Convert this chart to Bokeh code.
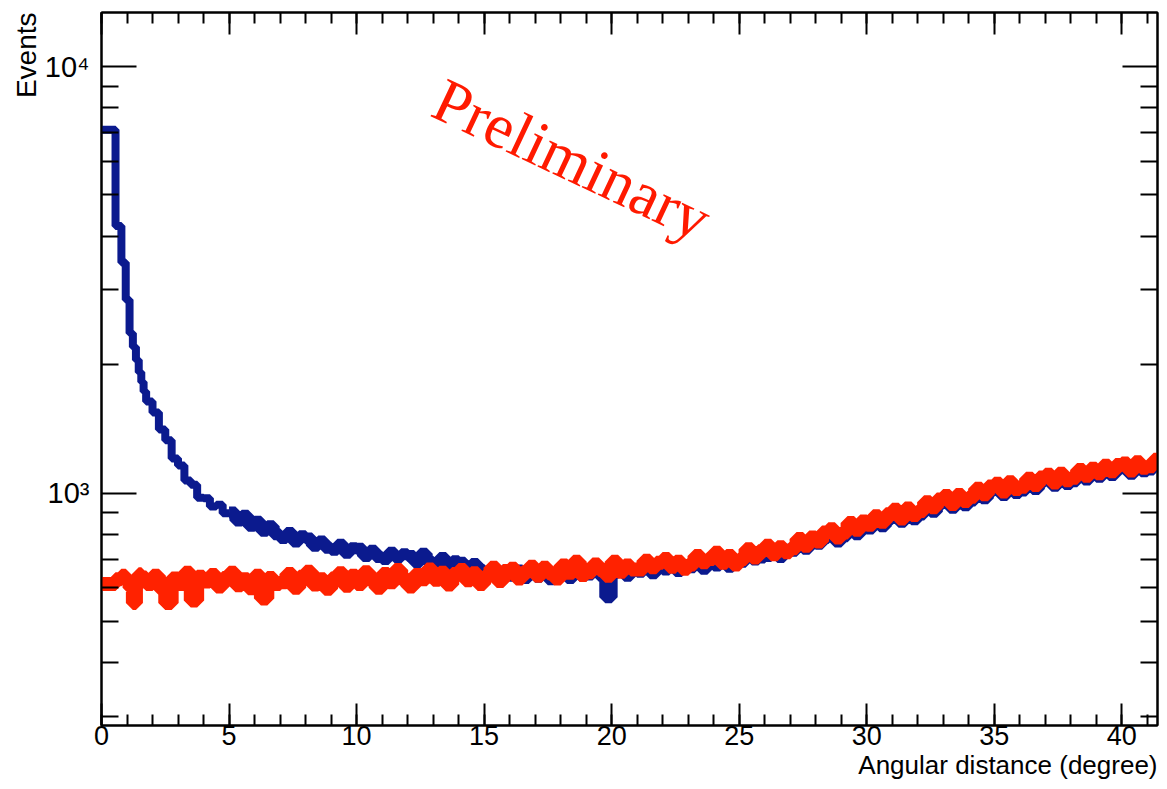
import numpy as np
from bokeh.plotting import figure
from bokeh.models import (FixedTicker, LinearAxis, LogAxis, Label, Range1d,
                          CustomJSTickFormatter, Title)
from bokeh.embed import file_html
from bokeh.resources import INLINE

# ---------------- data ----------------
# bin edges (deg): narrow equal-solid-angle bins near 0, then 0.25 deg bins
edges_fine = [0, 0.55, 0.78, 0.95, 1.10, 1.23, 1.35, 1.46, 1.56, 1.65, 1.75]
edges_coarse_start = 2.0
edges_coarse_step = 0.25
edges_coarse_stop = 42.0

# ON-source (blue) counts per bin
blue_counts = [
    7110, 4230, 3470, 2840, 2370, 2200, 2050, 1920, 1820, 1730,
    1640,
    1545, 1410, 1330, 1205,
    1160, 1070, 1045, 975,
    972, 930, 938, 896,
    900, 862, 884, 838,
    856, 816, 836, 800,
    784, 806, 770, 792,
    782, 752, 770, 744,
    736, 756, 724, 742,
    740, 712, 732, 708,
    700, 724, 706, 718,
    712, 688, 720, 690,
    680, 704, 676, 692,
    686, 664, 682, 660,
    652, 668, 644, 660,
    640, 658, 632, 650,
    636, 652, 628, 646,
    650, 632, 660, 640,
    644, 662, 640, 570,
    650, 668, 640, 660,
    654, 676, 648, 666,
    662, 684, 656, 676,
    670, 692, 664, 688,
    676, 700, 672, 694,
    690, 714, 698, 706,
    712, 730, 708, 736,
    732, 756, 740, 762,
    760, 784, 796, 770,
    792, 826, 800, 834,
    826, 860, 836, 868,
    890, 856, 896, 868,
    890, 930, 904, 944,
    960, 924, 966, 936,
    960, 1000, 972, 1012,
    1028, 990, 1036, 1000,
    1014, 1058, 1022, 1064,
    1080, 1040, 1086, 1050,
    1066, 1110, 1076, 1116,
    1092, 1136, 1102, 1140,
    1150, 1110, 1156, 1124,
    1136, 1176, 1146, 1180,
]

# OFF-source / background (red) counts per bin
red_counts = [
    612, 628, 640, 622, 600, 552, 628, 645, 620, 634,
    612,
    640, 598, 552, 630,
    612, 650, 560, 636,
    620, 642, 604, 632,
    650, 608, 628, 598,
    640, 566, 632, 612,
    618, 646, 600, 636,
    654, 610, 628, 596,
    630, 648, 606, 640,
    612, 652, 624, 600,
    646, 618, 660, 626,
    604, 642, 628, 662,
    626, 650, 610, 646,
    660, 624, 648, 612,
    638, 668, 622, 656,
    664, 630, 652, 672,
    640, 668, 648, 630,
    676, 650, 690, 642,
    652, 680, 660, 640,
    690, 654, 676, 662,
    662, 694, 670, 686,
    700, 672, 690, 664,
    680, 712, 688, 700,
    724, 686, 712, 680,
    700, 738, 706, 730,
    752, 718, 746, 726,
    742, 780, 752, 786,
    770, 808, 822, 786,
    808, 850, 820, 858,
    842, 882, 856, 892,
    914, 872, 920, 888,
    908, 952, 926, 966,
    984, 942, 990, 958,
    980, 1024, 994, 1036,
    1052, 1008, 1060, 1022,
    1034, 1080, 1044, 1088,
    1104, 1058, 1110, 1072,
    1086, 1132, 1098, 1140,
    1112, 1158, 1124, 1164,
    1172, 1130, 1180, 1146,
    1156, 1196, 1166, 1200,
]

x_major = [0, 5, 10, 15, 20, 25, 30, 35, 40]
x_minor = list(range(0, 42))
y_major = [1000, 10000]
y_minor = [300, 400, 500, 600, 700, 800, 900,
           2000, 3000, 4000, 5000, 6000, 7000, 8000, 9000]

x_title = "Angular distance (degree)"
y_title = "Events"
watermark = "Preliminary"

# ---------------- build ----------------
edges = np.array(edges_fine + list(np.arange(edges_coarse_start,
                                            edges_coarse_stop + 1e-9,
                                            edges_coarse_step)))
assert len(edges) - 1 == len(blue_counts) == len(red_counts)
step_y_blue = np.append(blue_counts, blue_counts[-1])
step_y_red = np.append(red_counts, red_counts[-1])
n_steep = 23  # bins of the steep blue part drawn thinner

BLUE = "#0b1a8e"
RED = "#ff2200"
FONT = "Liberation Sans"

p = figure(width=1159, height=789,
           x_range=Range1d(0, 41.4), y_range=Range1d(285, 13390),
           y_axis_type="log", output_backend="svg", toolbar_location=None,
           min_border_left=101, min_border_right=2, min_border_top=12,
           min_border_bottom=64, background_fill_color="white",
           border_fill_color="white")
p.grid.visible = False
p.outline_line_color = "black"
p.outline_line_width = 2

p.step(x=edges[:n_steep + 1], y=step_y_blue[:n_steep + 1], mode="after",
       line_color=BLUE, line_width=8)
p.step(x=edges[n_steep:], y=step_y_blue[n_steep:], mode="after",
       line_color=BLUE, line_width=12)
p.step(x=edges, y=step_y_red, mode="after",
       line_color=RED, line_width=14)

xt = FixedTicker(ticks=x_major, minor_ticks=x_minor)
yt = FixedTicker(ticks=y_major, minor_ticks=y_minor)

def style_x(ax):
    ax.ticker = xt
    ax.major_tick_in = 22
    ax.major_tick_out = 0
    ax.minor_tick_in = 11
    ax.minor_tick_out = 0
    ax.axis_line_width = 2
    ax.major_tick_line_width = 2
    ax.minor_tick_line_width = 2
    ax.major_label_text_font = FONT
    ax.major_label_text_font_size = "27px"
    ax.major_label_text_color = "black"

def style_y(ax):
    ax.ticker = yt
    ax.major_tick_in = 35
    ax.major_tick_out = 0
    ax.minor_tick_in = 17
    ax.minor_tick_out = 0
    ax.axis_line_width = 2
    ax.major_tick_line_width = 2
    ax.minor_tick_line_width = 2
    ax.major_label_text_font = FONT
    ax.major_label_text_font_size = "29px"
    ax.major_label_text_color = "black"

style_x(p.xaxis[0])
p.xaxis[0].major_label_standoff = 0
style_y(p.yaxis[0])
p.yaxis[0].major_label_standoff = 12
p.yaxis[0].formatter = CustomJSTickFormatter(code="""
    const e = Math.round(Math.log10(tick));
    const sup = {3: '\u00b3', 4: '\u2074'};
    return '10' + (sup[e] || String(e));
""")

blank = CustomJSTickFormatter(code="return '';")
top = LinearAxis()
style_x(top)
top.formatter = blank
top.major_label_text_font_size = "1px"
top.major_label_standoff = 0
p.add_layout(top, "above")

right = LogAxis()
style_y(right)
right.formatter = blank
right.major_label_text_font_size = "1px"
right.major_label_standoff = 0
p.add_layout(right, "right")

p.add_layout(Title(text=x_title, align="right", text_font=FONT,
                   text_font_size="26px", text_font_style="normal",
                   text_color="black", standoff=0, offset=0), "below")
p.add_layout(Title(text=y_title, align="right", text_font=FONT,
                   text_font_size="28px", text_font_style="normal",
                   text_color="black", standoff=0, offset=0), "left")

p.add_layout(Label(x=18.45, y=6050, text=watermark, angle=-0.44,
                   text_align="center", text_baseline="middle",
                   text_font="Liberation Serif", text_font_size="63px",
                   text_color="#ff1a00"))

open("out.html", "w").write(file_html(p, INLINE))
